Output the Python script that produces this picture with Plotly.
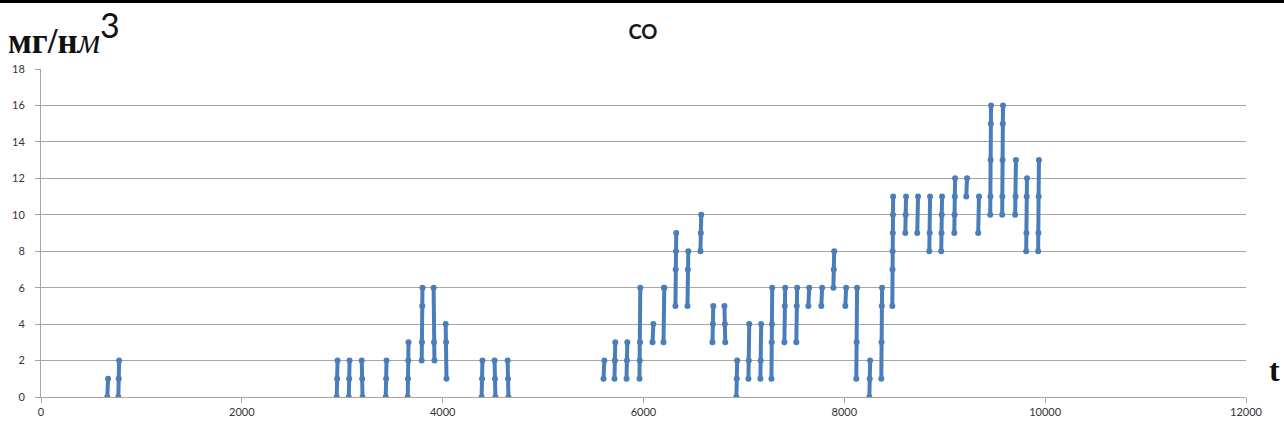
import plotly.graph_objects as go

# ---- data: each group is a burst of CO readings at time t ----
seg_t = [660, 770,
         2945, 3065, 3194, 3433, 3652, 3791, 3910, 4030, 4388, 4517, 4647,
         5602, 5711, 5831, 5960, 6090, 6199, 6318, 6438, 6567, 6687, 6806,
         6925, 7045, 7164, 7274, 7403, 7522, 7642, 7771, 7891, 8010, 8119,
         8249, 8368, 8478, 8607, 8726, 8846, 8965, 9095,
         9214, 9333, 9453, 9572, 9701, 9811, 9930]
seg_vals = [[0, 1], [0, 1, 2],
            [0, 1, 2], [0, 1, 2], [2, 1, 0], [0, 1, 2], [0, 1, 2, 3], [2, 3, 5, 6],
            [6, 3, 2], [4, 3, 1], [0, 1, 2], [2, 1, 0], [2, 1, 0],
            [1, 2], [1, 2, 3], [1, 2, 3], [1, 2, 3, 6], [3, 4], [3, 6, 6],
            [5, 7, 8, 9], [5, 7, 8], [8, 9, 10], [3, 4, 5], [5, 4, 3],
            [0, 1, 2], [1, 2, 4], [1, 2, 4], [1, 3, 4, 6], [3, 5, 6], [3, 5, 6],
            [5, 6], [5, 6], [6, 7, 8], [5, 6], [1, 3, 6],
            [0, 1, 2], [1, 3, 5, 6], [5, 7, 8, 9, 10, 11], [9, 10, 11], [9, 11],
            [8, 9, 11], [8, 9, 10, 11], [9, 10, 11, 12],
            [11, 12], [9, 11], [10, 11, 13, 15, 16], [10, 11, 13, 15, 16],
            [10, 11, 13], [8, 9, 11, 12], [8, 9, 11, 13]]
x_ticks = [0, 2000, 4000, 6000, 8000, 10000, 12000]
y_ticks = [0, 2, 4, 6, 8, 10, 12, 14, 16, 18]
title_text = "CO"
y_unit = ("<b>мг/н</b><i>м</i><sup><span style='font-family:Lato;font-size:34px'>3</span></sup>")
x_unit = "<b>t</b>"

xs, ys = [], []
for t, vals in zip(seg_t, seg_vals):
    n = len(vals)
    for i, v in enumerate(vals):
        xs.append(t + (i * 8 / max(n - 1, 1)))
        ys.append(v)
    xs.append(None)
    ys.append(None)

blue = "#4a7ebb"
fig = go.Figure()
fig.add_trace(go.Scatter(
    x=xs, y=ys, mode="lines+markers",
    line=dict(color=blue, width=4),
    marker=dict(color=blue, size=6),
    connectgaps=False, showlegend=False, hoverinfo="skip"))

grid = "#a6a6a6"
W, H = 1284, 432
l, r, t_m, b = 41, 38, 69, 35
pw, ph = W - l - r, H - t_m - b

def px_x(px):
    return (px - l) / pw

def px_y(py):
    return (H - b - py) / ph

fig.update_layout(
    width=W, height=H,
    margin=dict(l=l, r=r, t=t_m, b=b, autoexpand=False),
    paper_bgcolor="white", plot_bgcolor="white",
    font=dict(family="Lato, Open Sans, sans-serif", color="#333333", size=11),
    title=dict(text=f"<b>{title_text}</b>", x=px_x(643), xref="paper", xanchor="center",
               y=1 - 32 / H, yref="container", yanchor="middle",
               font=dict(size=20, color="#1a1a1a", family="Lato, Open Sans, sans-serif")),
    xaxis=dict(range=[0, 12000], tickvals=x_ticks, ticktext=[str(v) for v in x_ticks],
               showgrid=False, zeroline=False, showline=True, linecolor=grid, linewidth=1,
               ticks="outside", ticklen=5, tickcolor=grid, tickfont=dict(size=11, color="#333333"),
               automargin=False),
    yaxis=dict(range=[0, 18], tickvals=y_ticks, ticktext=[str(v) for v in y_ticks],
               showgrid=True, gridcolor=grid, gridwidth=1, zeroline=False,
               showline=True, linecolor=grid, linewidth=1,
               ticks="outside", ticklen=5, tickcolor=grid, tickfont=dict(size=11, color="#333333"),
               ticklabelstandoff=8, automargin=False),
    annotations=[
        dict(text=y_unit, x=px_x(6), y=px_y(32), xref="paper", yref="paper", showarrow=False,
             xanchor="left", yanchor="middle",
             font=dict(family="Liberation Serif, DejaVu Serif, serif", size=35, color="#111111")),
        dict(text=x_unit, x=px_x(1274), y=px_y(370), xref="paper", yref="paper", showarrow=False,
             xanchor="center", yanchor="middle",
             font=dict(family="Liberation Serif, DejaVu Serif, serif", size=32, color="#111111")),
    ],
    shapes=[dict(type="line", xref="paper", yref="paper", x0=px_x(0), x1=px_x(W),
                 y0=px_y(1), y1=px_y(1), line=dict(color="black", width=4))],
)

fig.write_html("out.html", config={"displayModeBar": False},
               post_script="document.body.style.margin='0';document.body.style.padding='0';")
